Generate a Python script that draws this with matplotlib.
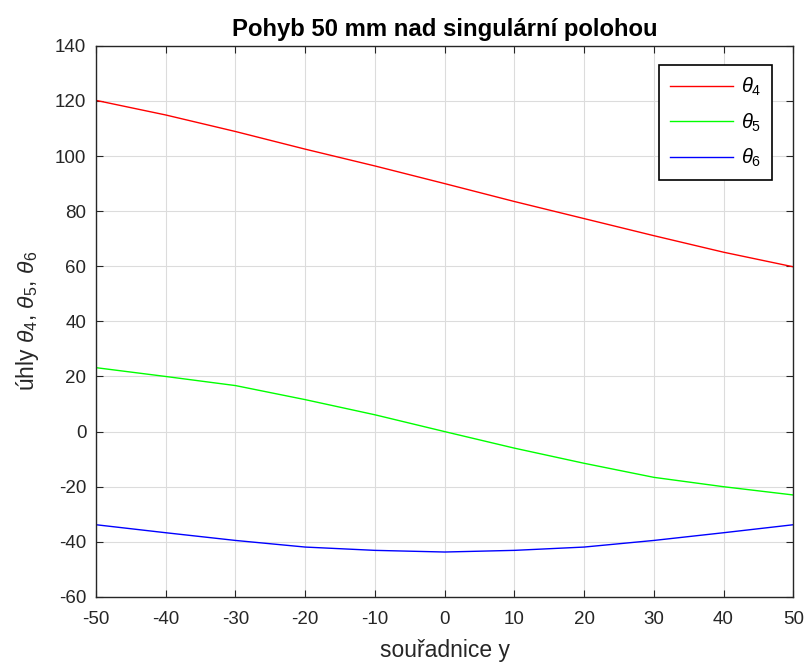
import matplotlib
matplotlib.use('Agg')
import matplotlib.pyplot as plt

plt.rcParams['font.family'] = ['Liberation Sans', 'DejaVu Sans']
plt.rcParams['mathtext.fontset'] = 'custom'
plt.rcParams['mathtext.rm'] = 'Liberation Sans'
plt.rcParams['mathtext.it'] = 'Liberation Sans:italic'
plt.rcParams['axes.unicode_minus'] = False

# data
y_pos = [-50, -40, -30, -20, -10, 0, 10, 20, 30, 40, 50]
theta4 = [120.2, 114.9, 108.9, 102.5, 96.4, 90.0, 83.5, 77.3, 71.1, 65.1, 59.8]
theta5 = [23.2, 20.0, 16.7, 11.6, 6.1, 0.0, -6.0, -11.5, -16.6, -20.0, -23.0]
theta6 = [-33.8, -36.7, -39.5, -41.9, -43.1, -43.7, -43.1, -41.9, -39.5, -36.7, -33.8]

fig = plt.figure(figsize=(8.07, 6.64), dpi=100)
ax = fig.add_axes([0.119, 0.101, 0.864, 0.830])

ax.plot(y_pos, theta4, color=(1, 0, 0), lw=1, label=r'$\theta_4$')
ax.plot(y_pos, theta5, color=(0, 1, 0), lw=1, label=r'$\theta_5$')
ax.plot(y_pos, theta6, color=(0, 0, 1), lw=1, label=r'$\theta_6$')

ax.set_xlim(-50, 50)
ax.set_ylim(-60, 140)
ax.set_xticks(range(-50, 51, 10))
ax.set_yticks(range(-60, 141, 20))
ax.grid(True, color='#dcdcdc', lw=0.8)
ax.set_axisbelow(True)
ax.tick_params(direction='in', top=True, right=True, labelsize=13.5,
               colors='#262626', length=5, pad=7)
ax.tick_params(axis='x', pad=10)
for s in ax.spines.values():
    s.set_color('#262626')
    s.set_linewidth(1)

ax.set_title('Pohyb 50 mm nad singulární polohou', fontsize=17.2,
             fontweight='bold', color='black', pad=7)
ax.set_xlabel('souřadnice y', fontsize=16.5, color='#262626', labelpad=8)
ax.set_ylabel(r'úhly $\theta_4$, $\theta_5$, $\theta_6$', fontsize=16.5,
              color='#262626', labelpad=10)

leg = ax.legend(loc='upper right', fontsize=14.5, fancybox=False,
                edgecolor='black', framealpha=1, handlelength=3.1,
                handletextpad=0.4, labelspacing=0.65, borderpad=0.55,
                borderaxespad=0, bbox_to_anchor=(0.970, 0.9655))
leg.get_frame().set_linewidth(1.2)

plt.savefig('out.png', dpi=100)
